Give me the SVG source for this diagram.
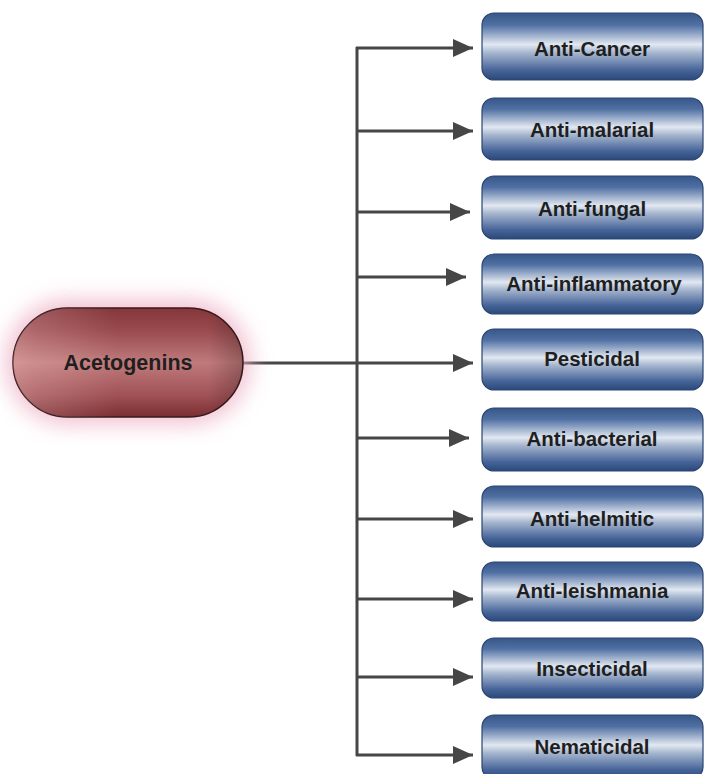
<svg xmlns="http://www.w3.org/2000/svg" width="704" height="774" viewBox="0 0 704 774">
  <defs>
    <style>
      .box { stroke: #2b4472; stroke-width: 1.2; }
      .lbl { font-family: "Liberation Sans", Arial, sans-serif; font-weight: bold; font-size: 20.5px; fill: #1f1f1f; text-anchor: middle; dominant-baseline: central; }
      .conn { stroke: #464646; stroke-width: 3; fill: none; }
    </style>
    <linearGradient id="blueG" x1="0" y1="0" x2="0" y2="1">
      <stop offset="0" stop-color="#375789"/>
      <stop offset="0.18" stop-color="#5070a3"/>
      <stop offset="0.47" stop-color="#e2e8f1"/>
      <stop offset="0.6" stop-color="#a3b4cd"/>
      <stop offset="0.85" stop-color="#48659a"/>
      <stop offset="1" stop-color="#2a4878"/>
    </linearGradient>
    <linearGradient id="redG" x1="0" y1="0" x2="0" y2="1">
      <stop offset="0" stop-color="#84363a"/>
      <stop offset="0.2" stop-color="#984a4e"/>
      <stop offset="0.5" stop-color="#c07a7b"/>
      <stop offset="0.8" stop-color="#a05256"/>
      <stop offset="1" stop-color="#7a2e32"/>
    </linearGradient>
    <linearGradient id="redH" x1="0" y1="0" x2="1" y2="0">
      <stop offset="0" stop-color="#ffd6d6" stop-opacity="0.3"/>
      <stop offset="0.1" stop-color="#ffd6d6" stop-opacity="0.2"/>
      <stop offset="0.45" stop-color="#ffd6d6" stop-opacity="0"/>
      <stop offset="0.85" stop-color="#000" stop-opacity="0"/>
      <stop offset="1" stop-color="#000" stop-opacity="0.22"/>
    </linearGradient>
    <filter id="glow" x="-30%" y="-60%" width="160%" height="220%">
      <feGaussianBlur stdDeviation="11"/>
    </filter>
    <marker id="arr" markerUnits="userSpaceOnUse" markerWidth="22" markerHeight="22" viewBox="0 0 22 22" refX="20" refY="11" orient="auto">
      <polygon points="0,2 20,11 0,20" fill="#464646"/>
    </marker>
  </defs>
  <rect width="704" height="774" fill="#ffffff"/>

  <g id="connectors">
    <line class="conn" x1="243" y1="363" x2="473" y2="363" marker-end="url(#arr)"/>
    <line class="conn" x1="357" y1="47" x2="357" y2="756"/>
    <line class="conn" x1="356" y1="48" x2="473" y2="48" marker-end="url(#arr)"/>
    <line class="conn" x1="356" y1="131" x2="473" y2="131" marker-end="url(#arr)"/>
    <line class="conn" x1="356" y1="212" x2="470" y2="212" marker-end="url(#arr)"/>
    <line class="conn" x1="356" y1="277" x2="466" y2="277" marker-end="url(#arr)"/>
    <line class="conn" x1="356" y1="438" x2="469" y2="438" marker-end="url(#arr)"/>
    <line class="conn" x1="356" y1="519" x2="473" y2="519" marker-end="url(#arr)"/>
    <line class="conn" x1="356" y1="599" x2="473" y2="599" marker-end="url(#arr)"/>
    <line class="conn" x1="356" y1="677" x2="473" y2="677" marker-end="url(#arr)"/>
    <line class="conn" x1="356" y1="755" x2="473" y2="755" marker-end="url(#arr)"/>
  </g>

  <g id="acetogenins">
    <rect x="6" y="300" width="244" height="124" rx="62" fill="#eeb4c6" opacity="0.85" filter="url(#glow)"/>
    <rect x="13" y="308" width="230" height="109" rx="54.5" fill="url(#redG)" stroke="#3a1a1c" stroke-width="1.5"/>
    <rect x="13" y="308" width="230" height="109" rx="54.5" fill="url(#redH)"/>
    <text class="lbl" x="128" y="363" style="font-size:21.5px">Acetogenins</text>
  </g>

  <g id="n1"><rect class="box" x="482" y="13" width="221" height="67" rx="12" fill="url(#blueG)"/><text class="lbl" x="592" y="48">Anti-Cancer</text></g>
  <g id="n2"><rect class="box" x="482" y="98" width="221" height="62" rx="12" fill="url(#blueG)"/><text class="lbl" x="592" y="129">Anti-malarial</text></g>
  <g id="n3"><rect class="box" x="482" y="176" width="221" height="63" rx="12" fill="url(#blueG)"/><text class="lbl" x="592" y="208">Anti-fungal</text></g>
  <g id="n4"><rect class="box" x="482" y="254" width="221" height="60" rx="12" fill="url(#blueG)"/><text class="lbl" x="594" y="283">Anti-inflammatory</text></g>
  <g id="n5"><rect class="box" x="482" y="329" width="221" height="61" rx="12" fill="url(#blueG)"/><text class="lbl" x="592" y="358">Pesticidal</text></g>
  <g id="n6"><rect class="box" x="482" y="408" width="221" height="63" rx="12" fill="url(#blueG)"/><text class="lbl" x="592" y="438">Anti-bacterial</text></g>
  <g id="n7"><rect class="box" x="482" y="486" width="221" height="61" rx="12" fill="url(#blueG)"/><text class="lbl" x="592" y="518">Anti-helmitic</text></g>
  <g id="n8"><rect class="box" x="482" y="562" width="221" height="59" rx="12" fill="url(#blueG)"/><text class="lbl" x="592" y="590">Anti-leishmania</text></g>
  <g id="n9"><rect class="box" x="482" y="638" width="221" height="60" rx="12" fill="url(#blueG)"/><text class="lbl" x="592" y="668">Insecticidal</text></g>
  <g id="n10"><rect class="box" x="482" y="715" width="221" height="64" rx="12" fill="url(#blueG)"/><text class="lbl" x="592" y="746">Nematicidal</text></g>
</svg>
